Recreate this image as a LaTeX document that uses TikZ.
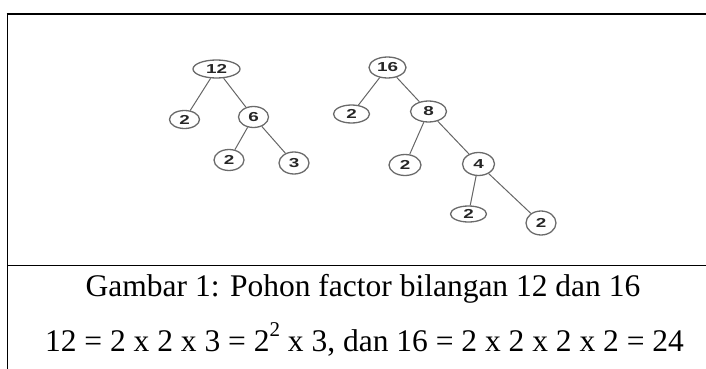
\documentclass[tikz,border=0pt]{standalone}
\usepackage{fontspec}
\setmainfont{Liberation Serif}
\newfontfamily\nodefont{Liberation Sans}
\usetikzlibrary{shapes.geometric}
\definecolor{ringgray}{HTML}{6A6A6A}
\definecolor{edgegray}{HTML}{666666}
\newcommand{\widedig}[1]{\scalebox{1.45}[1]{#1}}
\tikzset{
  fnode/.style={ellipse, draw=ringgray, line width=1.3pt, inner sep=0pt,
    font=\nodefont\bfseries\fontsize{13}{13}\selectfont, text=black!85},
  edge/.style={draw=edgegray, line width=1pt},
  frame/.style={line width=1.6pt, black},
  captext/.style={font=\fontsize{31.5}{32}\selectfont, anchor=base, inner sep=0pt}
}
\begin{document}
\begin{tikzpicture}[x=1pt,y=-1pt]
\useasboundingbox (0,0) rectangle (706,369);
% frame
\coordinate (tl) at (6.5,14);
\coordinate (tr) at (706,14);
\coordinate (bl) at (7.5,369);
\coordinate (ml) at (7.5,265.5);
\coordinate (mr) at (706,265.5);
\draw[frame] (tl) -- (tr);
\draw[frame] (7.5,13.2) -- (bl);
\draw[frame] (ml) -- (mr);
% tree 12
\node[fnode, minimum width=47, minimum height=18] (a12) at (216.5,69) {\widedig{12}};
\node[fnode, minimum width=30, minimum height=18] (a2) at (184.5,119.5) {\widedig{2}};
\node[fnode, minimum width=30, minimum height=21] (a6) at (253.5,117) {\widedig{6}};
\node[fnode, minimum width=30, minimum height=21] (a2b) at (229,160) {\widedig{2}};
\node[fnode, minimum width=30, minimum height=22] (a3) at (294,163) {\widedig{3}};
\draw[edge] (a12) -- (a2);
\draw[edge] (a12) -- (a6);
\draw[edge] (a6) -- (a2b);
\draw[edge] (a6) -- (a3);
% tree 16
\node[fnode, minimum width=37, minimum height=21] (b16) at (387.5,67.5) {\widedig{16}};
\node[fnode, minimum width=36, minimum height=18] (b2) at (351.5,114) {\widedig{2}};
\node[fnode, minimum width=36, minimum height=21] (b8) at (428.5,111.5) {\widedig{8}};
\node[fnode, minimum width=32, minimum height=21] (b2b) at (405,165) {\widedig{2}};
\node[fnode, minimum width=32, minimum height=23] (b4) at (478.5,164) {\widedig{4}};
\node[fnode, minimum width=36, minimum height=16] (b2c) at (468.5,214) {\widedig{2}};
\node[fnode, minimum width=30, minimum height=24] (b2d) at (541,223) {\widedig{2}};
\draw[edge] (b16) -- (b2);
\draw[edge] (b16) -- (b8);
\draw[edge] (b8) -- (b2b);
\draw[edge] (b8) -- (b4);
\draw[edge] (b4) -- (b2c);
\draw[edge] (b4) -- (b2d);
% captions
\node[captext] (c1) at (363,296) {Gambar 1: Pohon factor bilangan 12 dan 16};
\node[captext] (c2) at (364.5,351) {12 = 2 x 2 x 3 = 2\raisebox{0.46em}{\fontsize{21}{21}\selectfont 2} x 3, dan 16 = 2 x 2 x 2 x 2 = 24};
\end{tikzpicture}
\end{document}
